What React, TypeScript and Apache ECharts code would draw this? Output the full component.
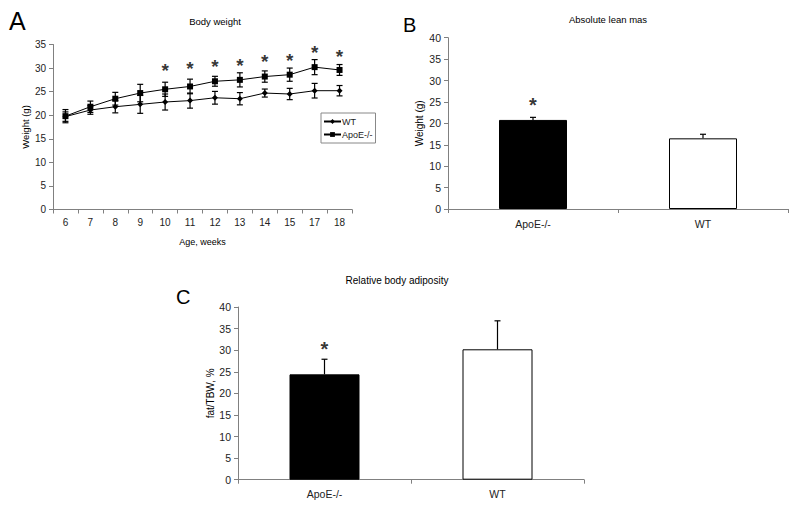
import React, { useEffect, useRef } from "react";
import * as echarts from "echarts";

const weeks = ["6", "7", "8", "9", "10", "11", "12", "13", "14", "15", "17", "18"];
const wtMean = [19.7, 21.1, 21.8, 22.3, 22.8, 23.1, 23.7, 23.5, 24.7, 24.5, 25.2, 25.2];
const wtErr = [1.0, 0.9, 1.3, 1.9, 1.7, 1.6, 1.35, 1.3, 0.85, 1.2, 1.55, 1.1];
const apoMean = [19.8, 21.8, 23.5, 24.7, 25.5, 26.1, 27.2, 27.5, 28.2, 28.6, 30.2, 29.6];
const apoErr = [1.4, 1.2, 1.35, 1.85, 1.5, 1.55, 1.05, 1.5, 1.2, 1.4, 1.6, 1.15];
const starA = [null, null, null, null, 30.3, 30.7, 31.1, 31.5, 32.2, 32.4, 34.1, 33.4];

const groups = ["ApoE-/-", "WT"];
const leanMean = [20.8, 16.5];
const leanErr = [0.6, 0.95];
const starB = [25.2, null];

const adipMean = [24.4, 30.2];
const adipErr = [3.5, 6.6];
const starC = [31.2, null];

const FONT = "Liberation Sans, Arial, sans-serif";

function errRender(capHalf: number, both: boolean) {
  return (params: any, api: any) => {
    const x = api.value(0);
    const lo = api.value(1);
    const hi = api.value(2);
    const p1 = api.coord([x, lo]);
    const p2 = api.coord([x, hi]);
    const st = { stroke: "#000", lineWidth: 1.2 };
    const children: any[] = [
      { type: "line", shape: { x1: p1[0], y1: p1[1], x2: p2[0], y2: p2[1] }, style: st },
      { type: "line", shape: { x1: p2[0] - capHalf, y1: p2[1], x2: p2[0] + capHalf, y2: p2[1] }, style: st },
    ];
    if (both) {
      children.push({ type: "line", shape: { x1: p1[0] - capHalf, y1: p1[1], x2: p1[0] + capHalf, y2: p1[1] }, style: st });
    }
    return { type: "group", children };
  };
}

const axisLine = { show: true, lineStyle: { color: "#808080", width: 1 } };
const axisTick = { show: true, length: 4, lineStyle: { color: "#808080" } };
const lbl = (size: number) => ({ color: "#222", fontSize: size, fontFamily: FONT });

export default function App() {
  const ref = useRef<HTMLDivElement>(null);
  useEffect(() => {
    document.body.style.margin = "0";
    const chart = echarts.init(ref.current!, null, { renderer: "svg" });
    const starLabel = (size: number) => ({
      show: true,
      formatter: "*",
      position: "inside",
      offset: [0, 4],
      fontSize: size,
      fontWeight: "bold",
      color: "#000",
      fontFamily: FONT,
    });
    const option: any = {
      animation: false,
      backgroundColor: "#fff",
      title: [
        { text: "A", left: 4, top: 3, textStyle: { fontSize: 25, fontWeight: "normal", color: "#000", fontFamily: FONT } },
        { text: "Body weight", left: 210, top: 11, textAlign: "center", textStyle: { fontSize: 9.5, fontWeight: "normal", color: "#000", fontFamily: FONT } },
        { text: "B", left: 398, top: 10, textStyle: { fontSize: 20, fontWeight: "normal", color: "#000", fontFamily: FONT } },
        { text: "Absolute lean mas", left: 603, top: 9, textAlign: "center", textStyle: { fontSize: 9.5, fontWeight: "normal", color: "#000", fontFamily: FONT } },
        { text: "C", left: 171, top: 282, textStyle: { fontSize: 20, fontWeight: "normal", color: "#000", fontFamily: FONT } },
        { text: "Relative body adiposity", left: 392, top: 270, textAlign: "center", textStyle: { fontSize: 10, fontWeight: "normal", color: "#000", fontFamily: FONT } },
      ],
      legend: {
        data: ["WT", "ApoE-/-"],
        orient: "vertical",
        left: 321,
        top: 113,
        padding: [4, 3, 4, 2],
        itemGap: 4,
        itemWidth: 17,
        itemHeight: 6,
        borderColor: "#888",
        borderWidth: 1,
        borderRadius: 0,
        textStyle: { fontSize: 9, color: "#222", fontFamily: FONT, padding: [0, 0, 0, -4] },
      },
      grid: [
        { left: 53, top: 44.5, width: 299, height: 165 },
        { left: 448, top: 37.7, width: 340, height: 171.3 },
        { left: 238, top: 307, width: 346, height: 172.7 },
      ],
      xAxis: [
        {
          gridIndex: 0, type: "category", data: weeks, boundaryGap: true,
          axisLine, axisTick: { ...axisTick, alignWithLabel: false }, axisLabel: { ...lbl(10), margin: 8 },
          name: "Age, weeks", nameLocation: "middle", nameGap: 28, nameTextStyle: { ...lbl(9), color: "#000" },
        },
        {
          gridIndex: 1, type: "category", data: groups, axisLine, axisTick, axisLabel: { ...lbl(10.5), margin: 9 },
        },
        {
          gridIndex: 2, type: "category", data: groups, axisLine, axisTick, axisLabel: { ...lbl(10.5), margin: 9 },
        },
      ],
      yAxis: [
        {
          gridIndex: 0, type: "value", min: 0, max: 35, interval: 5, splitLine: { show: false },
          axisLine, axisTick, axisLabel: { ...lbl(10), margin: 7 },
          name: "Weight (g)", nameLocation: "middle", nameGap: 18, nameTextStyle: { ...lbl(9.5), color: "#000" },
        },
        {
          gridIndex: 1, type: "value", min: 0, max: 40, interval: 5, splitLine: { show: false },
          axisLine, axisTick, axisLabel: { ...lbl(10.5), margin: 7 },
          name: "Weight (g)", nameLocation: "middle", nameGap: 24, nameTextStyle: { ...lbl(10), color: "#000" },
        },
        {
          gridIndex: 2, type: "value", min: 0, max: 40, interval: 5, splitLine: { show: false },
          axisLine, axisTick, axisLabel: { ...lbl(10.5), margin: 7 },
          name: "fat/TBW, %", nameLocation: "middle", nameGap: 23, nameTextStyle: { ...lbl(10), color: "#000" },
        },
      ],
      series: [
        {
          name: "WT", type: "line", xAxisIndex: 0, yAxisIndex: 0, data: wtMean,
          symbol: "diamond", symbolSize: 6, itemStyle: { color: "#000" }, lineStyle: { color: "#000", width: 1 }, z: 3,
        },
        {
          name: "ApoE-/-", type: "line", xAxisIndex: 0, yAxisIndex: 0, data: apoMean,
          symbol: "rect", symbolSize: 6, itemStyle: { color: "#000" }, lineStyle: { color: "#000", width: 1 }, z: 3,
        },
        {
          type: "custom", xAxisIndex: 0, yAxisIndex: 0, renderItem: errRender(3, true), z: 4,
          data: wtMean.map((m, i) => [i, m - wtErr[i], m + wtErr[i]]),
        },
        {
          type: "custom", xAxisIndex: 0, yAxisIndex: 0, renderItem: errRender(3, true), z: 4,
          data: apoMean.map((m, i) => [i, m - apoErr[i], m + apoErr[i]]),
        },
        {
          type: "scatter", xAxisIndex: 0, yAxisIndex: 0, symbolSize: 0, silent: true,
          data: starA.map((v, i) => (v == null ? null : [i, v])).filter((d) => d),
          label: starLabel(19),
        },
        {
          type: "bar", xAxisIndex: 1, yAxisIndex: 1, barWidth: 68,
          data: leanMean.map((v, i) => ({ value: v, itemStyle: { color: i === 0 ? "#000" : "#fff", borderColor: "#000", borderWidth: 1 } })),
        },
        {
          type: "custom", xAxisIndex: 1, yAxisIndex: 1, renderItem: errRender(3, false), z: 4,
          data: leanMean.map((m, i) => [i, m, m + leanErr[i]]),
        },
        {
          type: "scatter", xAxisIndex: 1, yAxisIndex: 1, symbolSize: 0, silent: true,
          data: starB.map((v, i) => (v == null ? null : [i, v])).filter((d) => d),
          label: starLabel(20),
        },
        {
          type: "bar", xAxisIndex: 2, yAxisIndex: 2, barWidth: 70,
          data: adipMean.map((v, i) => ({ value: v, itemStyle: { color: i === 0 ? "#000" : "#fff", borderColor: "#000", borderWidth: 1 } })),
        },
        {
          type: "custom", xAxisIndex: 2, yAxisIndex: 2, renderItem: errRender(3, false), z: 4,
          data: adipMean.map((m, i) => [i, m, m + adipErr[i]]),
        },
        {
          type: "scatter", xAxisIndex: 2, yAxisIndex: 2, symbolSize: 0, silent: true,
          data: starC.map((v, i) => (v == null ? null : [i, v])).filter((d) => d),
          label: starLabel(20),
        },
      ],
    };
    chart.setOption(option);
    return () => chart.dispose();
  }, []);
  return <div ref={ref} style={{ width: 800, height: 507 }} />;
}
